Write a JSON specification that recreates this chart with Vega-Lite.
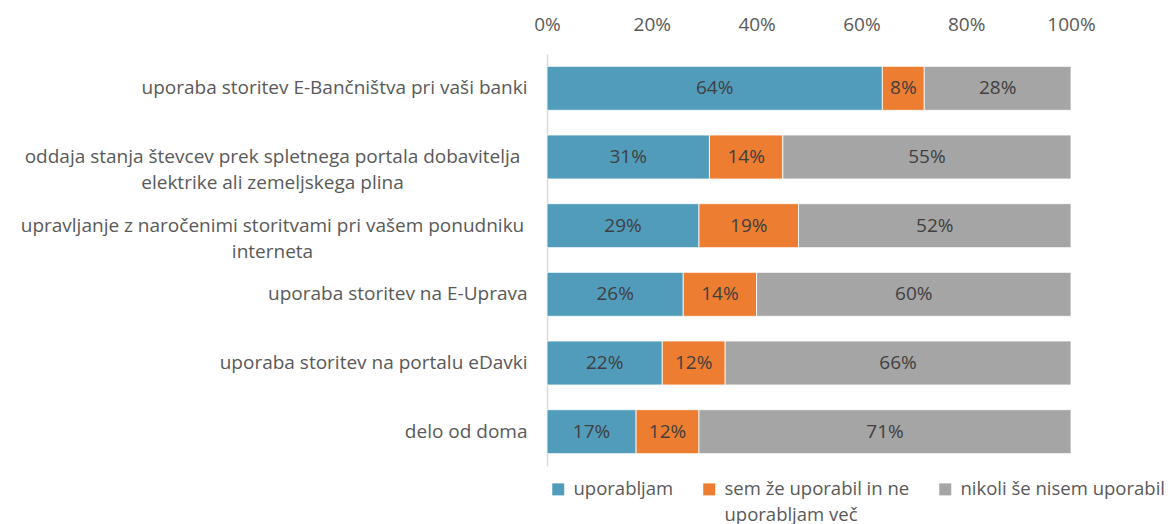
{
  "$schema": "https://vega.github.io/schema/vega-lite/v6.json",
  "width": 524,
  "height": 412,
  "autosize": "none",
  "padding": {"left": 547, "top": 54, "right": 105, "bottom": 58},
  "background": "white",
  "config": {"font": "Open Sans", "view": {"stroke": null}, "style": {"guide-label": {"lineHeight": 26}}},
  "data": {"values": [
    {"item": "uporaba storitev E-Bančništva pri vaši banki", "cat": "uporabljam", "k": 1, "value": 0.64},
    {"item": "uporaba storitev E-Bančništva pri vaši banki", "cat": "sem že uporabil in ne uporabljam več", "k": 2, "value": 0.08},
    {"item": "uporaba storitev E-Bančništva pri vaši banki", "cat": "nikoli še nisem uporabil", "k": 3, "value": 0.28},
    {"item": "oddaja stanja števcev prek spletnega portala dobavitelja|elektrike ali zemeljskega plina", "cat": "uporabljam", "k": 1, "value": 0.31},
    {"item": "oddaja stanja števcev prek spletnega portala dobavitelja|elektrike ali zemeljskega plina", "cat": "sem že uporabil in ne uporabljam več", "k": 2, "value": 0.14},
    {"item": "oddaja stanja števcev prek spletnega portala dobavitelja|elektrike ali zemeljskega plina", "cat": "nikoli še nisem uporabil", "k": 3, "value": 0.55},
    {"item": "upravljanje z naročenimi storitvami pri vašem ponudniku|interneta", "cat": "uporabljam", "k": 1, "value": 0.29},
    {"item": "upravljanje z naročenimi storitvami pri vašem ponudniku|interneta", "cat": "sem že uporabil in ne uporabljam več", "k": 2, "value": 0.19},
    {"item": "upravljanje z naročenimi storitvami pri vašem ponudniku|interneta", "cat": "nikoli še nisem uporabil", "k": 3, "value": 0.52},
    {"item": "uporaba storitev na E-Uprava", "cat": "uporabljam", "k": 1, "value": 0.26},
    {"item": "uporaba storitev na E-Uprava", "cat": "sem že uporabil in ne uporabljam več", "k": 2, "value": 0.14},
    {"item": "uporaba storitev na E-Uprava", "cat": "nikoli še nisem uporabil", "k": 3, "value": 0.60},
    {"item": "uporaba storitev na portalu eDavki", "cat": "uporabljam", "k": 1, "value": 0.22},
    {"item": "uporaba storitev na portalu eDavki", "cat": "sem že uporabil in ne uporabljam več", "k": 2, "value": 0.12},
    {"item": "uporaba storitev na portalu eDavki", "cat": "nikoli še nisem uporabil", "k": 3, "value": 0.66},
    {"item": "delo od doma", "cat": "uporabljam", "k": 1, "value": 0.17},
    {"item": "delo od doma", "cat": "sem že uporabil in ne uporabljam več", "k": 2, "value": 0.12},
    {"item": "delo od doma", "cat": "nikoli še nisem uporabil", "k": 3, "value": 0.71}
  ]},
  "transform": [
    {"stack": "value", "groupby": ["item"], "sort": [{"field": "k"}], "as": ["v0", "v1"]},
    {"calculate": "(datum.v0 + datum.v1) / 2", "as": "mid"}
  ],
  "encoding": {
    "y": {
      "field": "item", "type": "nominal", "sort": null,
      "scale": {"paddingInner": 0.36, "paddingOuter": 0.18},
      "axis": {
        "title": null, "ticks": false, "domain": true, "domainColor": "#d9d9d9", "domainWidth": 1.5,
        "labelExpr": "split(datum.label, '|')",
        "labelFontSize": 19, "labelColor": "#595959",
        "labelPadding": {"condition": {"test": "indexof(datum.value, '|') >= 0", "value": 275}, "value": 20},
        "labelAlign": {"condition": {"test": "indexof(datum.value, '|') >= 0", "value": "center"}, "value": "right"},
        "labelLimit": 700, "labelLineHeight": 26
      }
    }
  },
  "layer": [
    {
      "mark": {"type": "bar", "stroke": "white", "strokeWidth": 0.8},
      "encoding": {
        "x": {
          "field": "v0", "type": "quantitative",
          "scale": {"domain": [0, 1], "nice": false},
          "axis": {
            "orient": "top", "title": null, "format": ".0%", "values": [0, 0.2, 0.4, 0.6, 0.8, 1],
            "ticks": false, "domain": false, "grid": false, "labelFlush": false,
            "labelFontSize": 19, "labelColor": "#595959", "labelPadding": 20
          }
        },
        "x2": {"field": "v1"},
        "color": {
          "field": "cat", "type": "nominal",
          "scale": {
            "domain": ["uporabljam", "sem že uporabil in ne uporabljam več", "nikoli še nisem uporabil"],
            "range": ["#519CBB", "#ED7D31", "#A5A5A5"]
          },
          "legend": {
            "title": null, "orient": "none", "legendX": 2, "legendY": 426,
            "direction": "horizontal", "columns": 3, "columnPadding": 26,
            "symbolType": "square", "symbolSize": 144, "symbolStrokeWidth": 0, "symbolOpacity": 1,
            "labelFontSize": 18.5, "labelColor": "#595959", "labelOffset": 6, "labelLimit": 400,
            "labelExpr": "datum.label == 'sem že uporabil in ne uporabljam več' ? ['sem že uporabil in ne', 'uporabljam več'] : [datum.label, '']"
          }
        },
        "order": {"field": "k", "type": "quantitative"}
      }
    },
    {
      "mark": {"type": "text", "fontSize": 19, "color": "#404040"},
      "encoding": {
        "x": {"field": "mid", "type": "quantitative"},
        "text": {"field": "value", "type": "quantitative", "format": ".0%"}
      }
    }
  ]
}
